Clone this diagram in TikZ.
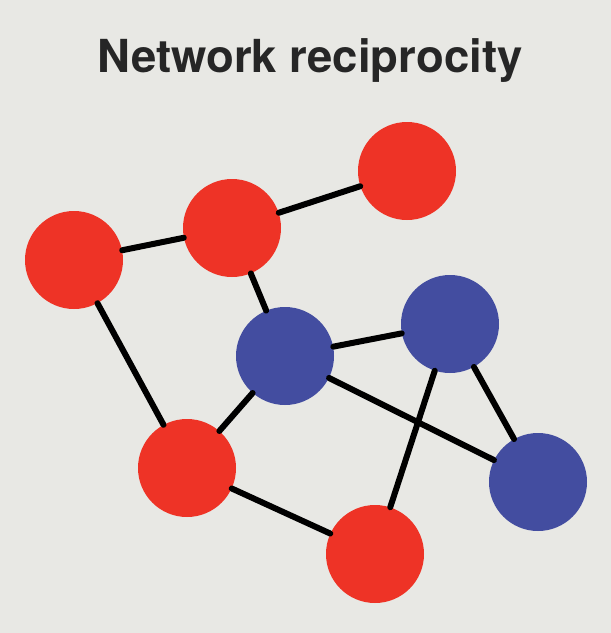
\documentclass[tikz,border=0pt]{standalone}
\usepackage{fontspec}
\setmainfont{TeX Gyre Heros}
\definecolor{nen}{HTML}{E8E8E4}
\definecolor{do}{HTML}{EE3326}
\definecolor{xanh}{HTML}{434DA0}
\begin{document}
\begin{tikzpicture}[x=1pt, y=-1pt, line join=round, line cap=round,
	dinh/.style={circle, inner sep=0pt, minimum size=98pt},
	dinhdo/.style={dinh, fill=do},
	dinhxanh/.style={dinh, fill=xanh},
	canh/.style={line width=6pt, black}]
	\fill[nen] (0,0) rectangle (611,633); % Nền
	\useasboundingbox (0,0) rectangle (611,633);
	\node[anchor=base, font=\bfseries\fontsize{45.5}{50}\selectfont, text=black!85] (T) at (310,72) {Network reciprocity};
	% Các đỉnh đỏ
	\node[dinhdo] (A) at (74,260) {};
	\node[dinhdo] (B) at (232,228) {};
	\node[dinhdo] (C) at (407,171) {};
	\node[dinhdo] (D) at (187,468) {};
	\node[dinhdo] (E) at (375,554) {};
	% Các đỉnh xanh
	\node[dinhxanh] (M) at (285,356) {};
	\node[dinhxanh] (N) at (450,324) {};
	\node[dinhxanh] (P) at (538,482) {};
	% Các cạnh
	\foreach \u/\v in {A/B,B/C,B/M,A/D,D/M,M/N,M/P,N/P,N/E,D/E}
		\draw[canh] (\u)--(\v);
\end{tikzpicture}
\end{document}
